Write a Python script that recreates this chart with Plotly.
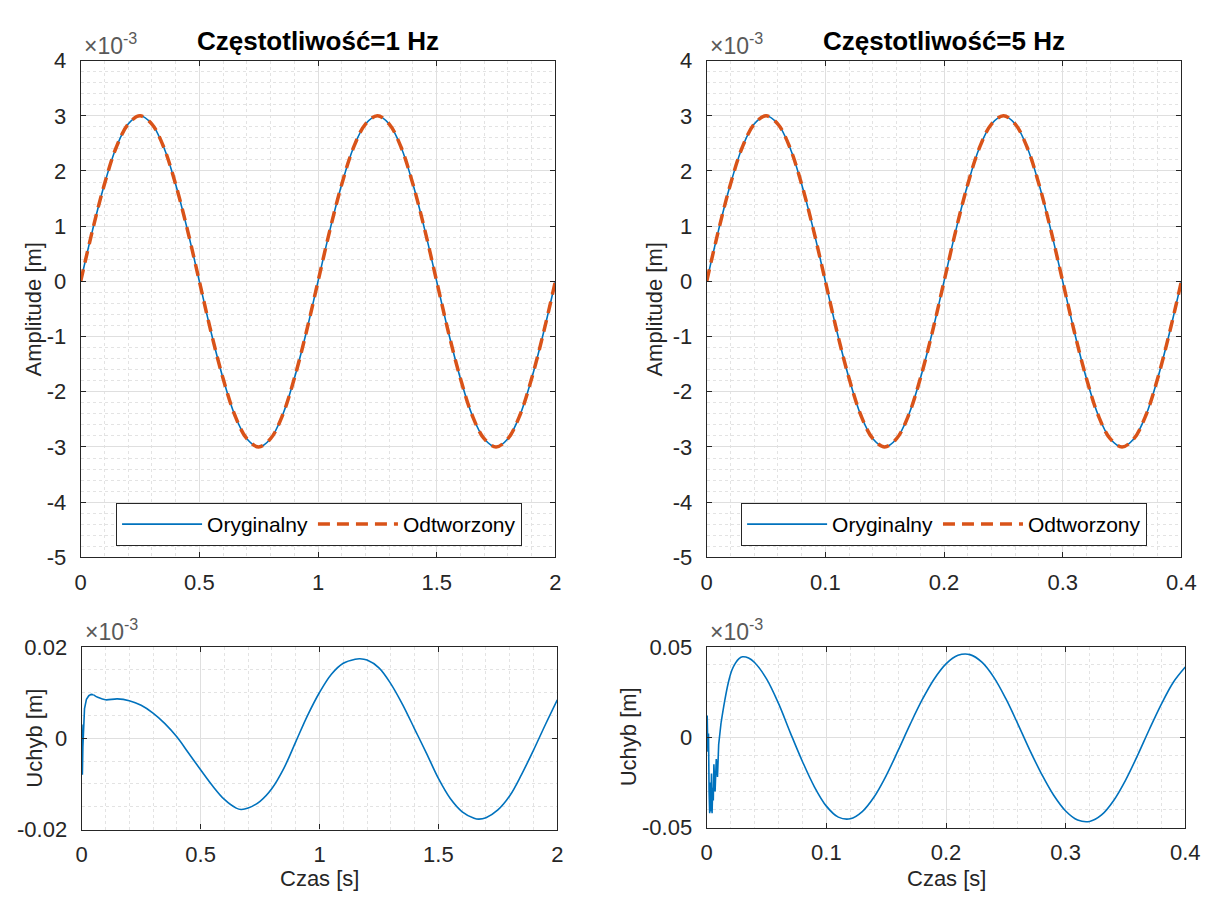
import plotly.graph_objects as go

# ---------------- data (amplitudes in units of 1e-3 m) ----------------
t_f1 = [i * 0.05 for i in range(41)]          # 0 .. 2 s
t_f5 = [i * 0.01 for i in range(41)]          # 0 .. 0.4 s
orig_vals = [0.00, 0.93, 1.76, 2.43, 2.85, 3.00, 2.85, 2.43, 1.76, 0.93,
             0.00, -0.93, -1.76, -2.43, -2.85, -3.00, -2.85, -2.43, -1.76, -0.93,
             0.00, 0.93, 1.76, 2.43, 2.85, 3.00, 2.85, 2.43, 1.76, 0.93,
             0.00, -0.93, -1.76, -2.43, -2.85, -3.00, -2.85, -2.43, -1.76, -0.93,
             0.00]
recon_vals = [0.00, 0.93, 1.76, 2.43, 2.85, 3.00, 2.85, 2.43, 1.76, 0.93,
              0.00, -0.93, -1.76, -2.43, -2.85, -3.00, -2.85, -2.43, -1.76, -0.93,
              0.00, 0.93, 1.76, 2.43, 2.85, 3.00, 2.85, 2.43, 1.76, 0.93,
              0.00, -0.93, -1.76, -2.43, -2.85, -3.00, -2.85, -2.43, -1.76, -0.93,
              0.00]

# error, 1 Hz: initial transient then smooth part
t_e1_tr = [0.0, 0.001, 0.002, 0.003, 0.005, 0.008, 0.012, 0.02, 0.03, 0.04, 0.05]
e1_tr = [0.002, 0.003, -0.004, -0.008, -0.002, 0.003, 0.0065, 0.0085, 0.0093, 0.0096, 0.0095]
t_e1 = [0.05, 0.07, 0.1, 0.15, 0.2, 0.25, 0.3, 0.35, 0.4, 0.45, 0.5, 0.55, 0.6, 0.65, 0.67,
        0.7, 0.75, 0.8, 0.85, 0.9, 0.95, 1.0, 1.05, 1.1, 1.15, 1.17, 1.2, 1.25, 1.3,
        1.35, 1.4, 1.45, 1.5, 1.55, 1.6, 1.65, 1.67, 1.7, 1.75, 1.8, 1.85, 1.9, 1.95, 2.0]
e1 = [0.0095, 0.0089, 0.0084, 0.0086, 0.0082, 0.0072, 0.0055, 0.0032, 0.0003, -0.0033,
      -0.0069, -0.0104, -0.0134, -0.0153, -0.0156, -0.0153, -0.0138, -0.0110, -0.0066,
      -0.0008, 0.0050, 0.0100, 0.0140, 0.0164, 0.0173, 0.0174, 0.0171, 0.0154, 0.0119,
      0.0073, 0.0020, -0.0033, -0.0088, -0.0132, -0.0161, -0.0175, -0.0177, -0.0174,
      -0.0157, -0.0126, -0.0079, -0.0026, 0.0030, 0.0084]

# error, 5 Hz: transient then smooth part
t_e5_tr = [0.0, 0.0004, 0.001, 0.0015, 0.002, 0.0025, 0.003, 0.0035, 0.004, 0.0045,
           0.005, 0.0055, 0.006, 0.007, 0.008, 0.009, 0.010, 0.012]
e5_tr = [0.0, 0.012, -0.008, 0.002, -0.030, -0.042, -0.025, -0.041, -0.020, -0.042,
         -0.028, -0.035, -0.015, -0.030, -0.012, -0.022, -0.004, 0.008]
t_e5 = [0.012, 0.015, 0.018, 0.021, 0.024, 0.027, 0.030, 0.035, 0.04, 0.05, 0.06, 0.07,
        0.08, 0.09, 0.10, 0.11, 0.12, 0.13, 0.14, 0.15, 0.16, 0.17, 0.18, 0.19, 0.20,
        0.21, 0.22, 0.23, 0.24, 0.25, 0.26, 0.27, 0.28, 0.29, 0.30, 0.31, 0.32, 0.33,
        0.34, 0.35, 0.36, 0.37, 0.38, 0.39, 0.40]
e5 = [0.008, 0.020, 0.030, 0.037, 0.041, 0.0435, 0.0445, 0.0438, 0.0413, 0.0323, 0.0187,
      0.0023, -0.0134, -0.0274, -0.0381, -0.0442, -0.0451, -0.0411, -0.0329, -0.0212,
      -0.0073, 0.0071, 0.0206, 0.0321, 0.0406, 0.0453, 0.0457, 0.0415, 0.0331, 0.0213,
      0.0074, -0.0071, -0.0205, -0.0321, -0.0408, -0.0458, -0.0466, -0.0430, -0.0351,
      -0.0238, -0.0102, 0.0044, 0.0183, 0.0304, 0.0388]

titles = ["Częstotliwość=1 Hz", "Częstotliwość=5 Hz"]
amp_ticks = [4, 3, 2, 1, 0, -1, -2, -3, -4, -5]
x1_ticks = [0, 0.5, 1, 1.5, 2]
x5_ticks = [0, 0.1, 0.2, 0.3, 0.4]
e1_ticks = [0.02, 0, -0.02]
e5_ticks = [0.05, 0, -0.05]

# ---------------- styling ----------------
W, H = 1218, 898
BLUE = "#0072BD"
ORANGE = "#D95319"
AXC = "#262626"
GRID = "#DFDFDF"
MGRID = "#E3E3E3"
FONT = "Liberation Sans, Arial, Helvetica, sans-serif"


def lab(v):
    return ("%g" % v)


def px_dom(a, b, total, flip=False):
    if flip:
        return [(total - b) / total, (total - a) / total]
    return [a / total, b / total]


fig = go.Figure()

boxes = {
    1: dict(x=(76, 559), y=(50, 561)),
    2: dict(x=(713, 1196), y=(50, 561)),
    3: dict(x=(77, 561), y=(653, 841)),
    4: dict(x=(713, 1200), y=(653, 839)),
}


def axis_common():
    return dict(
        showline=True, linecolor=AXC, linewidth=1.2, mirror="ticks",
        ticks="inside", ticklen=5, tickcolor=AXC, tickwidth=1,
        showgrid=True, gridcolor=GRID, gridwidth=1, zeroline=False,
        tickfont=dict(family=FONT, size=22, color=AXC),
    )


def set_axes(i, xr, xt, xminor, yr, yt, yminor):
    xa = axis_common()
    xa.update(domain=px_dom(*boxes[i]["x"], W), range=xr, tickvals=xt,
              ticktext=[lab(v) for v in xt], anchor="y" if i == 1 else "y%d" % i,
              minor=dict(dtick=xminor, showgrid=True, gridcolor=MGRID, griddash="dot",
                         gridwidth=1, ticks=""),
              ticklabelstandoff=5)
    ya = axis_common()
    ya.update(domain=px_dom(*boxes[i]["y"], H, flip=True), range=yr, tickvals=yt,
              ticktext=[lab(v) for v in yt], anchor="x" if i == 1 else "x%d" % i,
              minor=dict(dtick=yminor, showgrid=True, gridcolor=MGRID, griddash="dot",
                         gridwidth=1, ticks=""),
              ticklabelstandoff=9)
    xk = "xaxis" if i == 1 else "xaxis%d" % i
    yk = "yaxis" if i == 1 else "yaxis%d" % i
    fig.update_layout({xk: xa, yk: ya})


set_axes(1, [0, 2], x1_ticks, 0.1, [-5, 4], amp_ticks, 0.2)
set_axes(2, [0, 0.4], x5_ticks, 0.02, [-5, 4], amp_ticks, 0.2)
set_axes(3, [0, 2], x1_ticks, 0.1, [-0.02, 0.02], e1_ticks, 0.005)
set_axes(4, [0, 0.4], x5_ticks, 0.02, [-0.05, 0.05], e5_ticks, 0.01)

# ---------------- traces ----------------
for i, (t, leg) in enumerate([(t_f1, "legend"), (t_f5, "legend2")], start=1):
    xa = "x" if i == 1 else "x%d" % i
    ya = "y" if i == 1 else "y%d" % i
    fig.add_trace(go.Scatter(x=t, y=orig_vals, mode="lines", name="Oryginalny",
                             line=dict(color=BLUE, width=1.6, shape="spline"),
                             xaxis=xa, yaxis=ya, legend=leg))
    fig.add_trace(go.Scatter(x=t, y=recon_vals, mode="lines", name="Odtworzony",
                             line=dict(color=ORANGE, width=3.5, shape="spline",
                                       dash="12px,7px"),
                             xaxis=xa, yaxis=ya, legend=leg))

fig.add_trace(go.Scatter(x=t_e1_tr, y=e1_tr, mode="lines", showlegend=False,
                         line=dict(color=BLUE, width=1.6), xaxis="x3", yaxis="y3"))
fig.add_trace(go.Scatter(x=t_e1, y=e1, mode="lines", showlegend=False,
                         line=dict(color=BLUE, width=1.6, shape="spline"),
                         xaxis="x3", yaxis="y3"))
fig.add_trace(go.Scatter(x=t_e5_tr, y=e5_tr, mode="lines", showlegend=False,
                         line=dict(color=BLUE, width=1.6), xaxis="x4", yaxis="y4"))
fig.add_trace(go.Scatter(x=t_e5, y=e5, mode="lines", showlegend=False,
                         line=dict(color=BLUE, width=1.6, shape="spline"),
                         xaxis="x4", yaxis="y4"))

# ---------------- annotations ----------------
ann = []
for i, ttl in zip((1, 2), titles):
    x0, x1 = boxes[i]["x"]
    ann.append(dict(text="<b>%s</b>" % ttl, x=(x0 + x1) / 2 / W, y=1 - 30 / H,
                    xref="paper", yref="paper", showarrow=False,
                    font=dict(family=FONT, size=26, color="black"),
                    xanchor="center", yanchor="middle"))
for i in (1, 2, 3, 4):
    x0 = boxes[i]["x"][0]
    y0 = boxes[i]["y"][0]
    ann.append(dict(text="×10<sup>-3</sup>", x=(x0 + 1) / W, y=1 - (y0 - 17) / H,
                    xref="paper", yref="paper", showarrow=False,
                    font=dict(family=FONT, size=23, color="#595959"),
                    xanchor="left", yanchor="middle"))
ytitle_x = {1: 28, 2: 660, 3: 29, 4: 633}
for i, txt in ((1, "Amplitude [m]"), (2, "Amplitude [m]"), (3, "Uchyb [m]"), (4, "Uchyb [m]")):
    y0, y1 = boxes[i]["y"]
    ann.append(dict(text=txt, x=ytitle_x[i] / W, y=1 - (y0 + y1) / 2 / H,
                    xref="paper", yref="paper", showarrow=False, textangle=-90,
                    font=dict(family=FONT, size=22, color=AXC),
                    xanchor="center", yanchor="middle"))
for i in (3, 4):
    x0, x1 = boxes[i]["x"]
    ann.append(dict(text="Czas [s]", x=(x0 + x1) / 2 / W, y=0,
                    xref="paper", yref="paper", showarrow=False,
                    font=dict(family=FONT, size=22, color=AXC),
                    xanchor="center", yanchor="bottom", yshift=-8))

legend_style = dict(orientation="h", bgcolor="white", bordercolor=AXC, borderwidth=1,
                    font=dict(family=FONT, size=21, color="black"),
                    xanchor="left", yanchor="top", xref="paper", yref="paper",
                    tracegroupgap=0, itemwidth=80)

fig.update_layout(
    width=W, height=H,
    margin=dict(l=0, r=0, t=0, b=0),
    paper_bgcolor="white", plot_bgcolor="white",
    annotations=ann,
    legend=dict(legend_style, x=112 / W, y=1 - 505 / H),
    legend2=dict(legend_style, x=748 / W, y=1 - 505 / H),
    showlegend=True,
)

fig.write_html("out.html")
